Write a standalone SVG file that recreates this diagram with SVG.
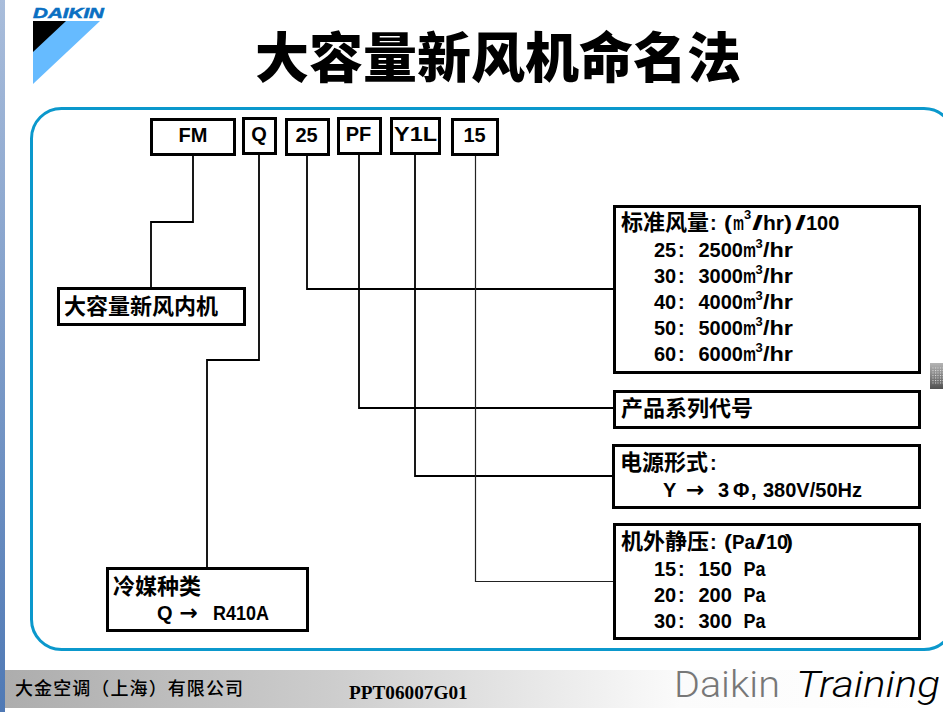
<svg xmlns="http://www.w3.org/2000/svg" width="943" height="712" viewBox="0 0 943 712">
<style>
.box{fill:#fff;stroke:#000;stroke-width:3}
.con{fill:none;stroke:#000;stroke-width:1.8}
.thin{stroke:#222;stroke-width:1.2}
text{font-family:"Liberation Sans","Noto Sans CJK SC",sans-serif;fill:#000;font-weight:700}
.t{font-size:20px}
.c{font-size:22px;font-family:"Noto Sans CJK SC",sans-serif;font-weight:700}
.h{font-size:20px;text-anchor:middle}
.s{font-size:13px}
.a{font-size:22px;font-family:"DejaVu Sans",sans-serif}
</style>
<defs>
<linearGradient id="fg" x1="0" x2="1" y1="0" y2="0"><stop offset="0" stop-color="#adadad"/><stop offset=".35" stop-color="#cdcdcd"/><stop offset=".72" stop-color="#fbfbfb"/><stop offset="1" stop-color="#fff"/></linearGradient>
<linearGradient id="lg" x1="0" x2="0" y1="0" y2="1"><stop offset="0" stop-color="#a9bddb"/><stop offset="1" stop-color="#4f79b5"/></linearGradient>
<linearGradient id="ig" x1="0" x2="0" y1="0" y2="1"><stop offset="0" stop-color="#b5b5b5"/><stop offset="1" stop-color="#505050"/></linearGradient>
<pattern id="dots" width="2.500" height="2.500" patternUnits="userSpaceOnUse"><rect width="1" height="1" fill="#e4e4e4"/></pattern>
</defs>
<rect width="943" height="712" fill="#fff"/>
<rect width="5" height="712" fill="url(#lg)"/>
<rect x="5" y="670" width="938" height="38" fill="url(#fg)"/>
<g id="logo">
<polygon points="33,21 100,21 33,84" fill="#66bbff"/>
<polygon points="33,21 66,21 33,52" fill="#000"/>
<text x="33" y="18" textLength="71" lengthAdjust="spacingAndGlyphs" style="font-size:14.5px;font-style:italic;font-weight:700;fill:#0a6fc2;stroke:#0a6fc2;stroke-width:.5">DAIKIN</text>
</g>
<text id="title" x="498" y="78" text-anchor="middle" style="font-size:54px;font-family:'Noto Sans CJK SC',sans-serif;font-weight:900">大容量新风机命名法</text>
<rect id="frame" x="31.5" y="108.5" width="922.5" height="541" rx="30" fill="none" stroke="#0b98cc" stroke-width="3"/>
<g id="connectors">
<path class="con" d="M193 154V222H151V296"/>
<path class="con" d="M259 154V360H207V568"/>
<path class="con" d="M307 154V289H614"/>
<path class="con" d="M359 154V408H614"/>
<path class="con" d="M415 154V476H614"/>
<path class="con thin" d="M475.500 154V581.500H614"/>
</g>
<g id="n-fm"><rect class="box" x="151.500" y="119.500" width="83" height="35"/><text class="h" x="193" y="142">FM</text></g>
<g id="n-q"><rect class="box" x="243.500" y="118.500" width="32" height="35"/><text class="h" x="259" y="141">Q</text></g>
<g id="n-25"><rect class="box" x="286.500" y="119.500" width="42" height="35"/><text class="h" x="306.500" y="142">25</text></g>
<g id="n-pf"><rect class="box" x="338.500" y="118.500" width="42" height="35"/><text class="h" x="358.500" y="141">PF</text></g>
<g id="n-y1l"><rect class="box" x="391.500" y="118.500" width="48" height="35"/><text class="t" x="394" y="141" textLength="43" lengthAdjust="spacingAndGlyphs">Y1L</text></g>
<g id="n-15"><rect class="box" x="452.500" y="119.500" width="45" height="35"/><text class="h" x="474.500" y="142">15</text></g>
<g id="n-name"><rect class="box" x="58.500" y="288.500" width="186" height="36"/><text class="c" x="64" y="314">大容量新风内机</text></g>
<g id="n-ref"><rect class="box" x="107.500" y="568.500" width="200" height="62"/><text class="c" x="113" y="594">冷媒种类</text><text class="t" x="157" y="620">Q</text><text class="a" x="179.500" y="620">→</text><text class="t" x="213" y="620" textLength="56" lengthAdjust="spacingAndGlyphs">R410A</text></g>
<g id="n-air"><rect class="box" x="614.500" y="206.500" width="305" height="166"/>
<text class="c" x="621" y="230">标准风量</text><text class="t" x="710" y="230">:</text><text class="t" x="724" y="230" textLength="8" lengthAdjust="spacingAndGlyphs">(</text><text class="t" x="733" y="230" textLength="11" lengthAdjust="spacingAndGlyphs">m</text><text class="s" x="744" y="219">3</text><text class="t" x="752" y="230" textLength="11" lengthAdjust="spacingAndGlyphs">/</text><text class="t" x="763" y="230" textLength="21" lengthAdjust="spacingAndGlyphs">hr</text><text class="t" x="784" y="230" textLength="8" lengthAdjust="spacingAndGlyphs">)</text><text class="t" x="795" y="230" textLength="11" lengthAdjust="spacingAndGlyphs">/</text><text class="t" x="806" y="230">100</text>
<text class="t" x="654" y="257">25</text><text class="t" x="678" y="257">:</text><text class="t" x="698.500" y="257">2500</text><text class="t" x="743" y="257" textLength="13" lengthAdjust="spacingAndGlyphs">m</text><text class="s" x="755.500" y="248">3</text><text class="t" x="763" y="257" textLength="30" lengthAdjust="spacingAndGlyphs">/hr</text>
<text class="t" x="654" y="283">30</text><text class="t" x="678" y="283">:</text><text class="t" x="698.500" y="283">3000</text><text class="t" x="743" y="283" textLength="13" lengthAdjust="spacingAndGlyphs">m</text><text class="s" x="755.500" y="274">3</text><text class="t" x="763" y="283" textLength="30" lengthAdjust="spacingAndGlyphs">/hr</text>
<text class="t" x="654" y="309">40</text><text class="t" x="678" y="309">:</text><text class="t" x="698.500" y="309">4000</text><text class="t" x="743" y="309" textLength="13" lengthAdjust="spacingAndGlyphs">m</text><text class="s" x="755.500" y="300">3</text><text class="t" x="763" y="309" textLength="30" lengthAdjust="spacingAndGlyphs">/hr</text>
<text class="t" x="654" y="335">50</text><text class="t" x="678" y="335">:</text><text class="t" x="698.500" y="335">5000</text><text class="t" x="743" y="335" textLength="13" lengthAdjust="spacingAndGlyphs">m</text><text class="s" x="755.500" y="326">3</text><text class="t" x="763" y="335" textLength="30" lengthAdjust="spacingAndGlyphs">/hr</text>
<text class="t" x="654" y="361">60</text><text class="t" x="678" y="361">:</text><text class="t" x="698.500" y="361">6000</text><text class="t" x="743" y="361" textLength="13" lengthAdjust="spacingAndGlyphs">m</text><text class="s" x="755.500" y="352">3</text><text class="t" x="763" y="361" textLength="30" lengthAdjust="spacingAndGlyphs">/hr</text>
</g>
<g id="n-code"><rect class="box" x="614.500" y="391.500" width="305" height="36"/><text class="c" x="621" y="416">产品系列代号</text></g>
<g id="n-power"><rect class="box" x="613.500" y="445.500" width="306" height="62"/><text class="c" x="620" y="470">电源形式</text><text class="t" x="710" y="470">:</text><text class="t" x="663" y="497">Y</text><text class="a" x="686" y="497">→</text><text class="t" x="718" y="497">3</text><text class="t" x="733" y="497">Φ</text><text class="t" x="751" y="497">,</text><text class="t" x="763" y="497">380V/50Hz</text></g>
<g id="n-esp"><rect class="box" x="614.500" y="524.500" width="305" height="114"/><text class="c" x="621" y="549">机外静压</text><text class="t" x="710" y="549">:</text><text class="t" x="724" y="549" textLength="8" lengthAdjust="spacingAndGlyphs">(</text><text class="t" x="732" y="549" textLength="23" lengthAdjust="spacingAndGlyphs">Pa</text><text class="t" x="755" y="549" textLength="11" lengthAdjust="spacingAndGlyphs">/</text><text class="t" x="766" y="549">10</text><text class="t" x="785" y="549" textLength="8" lengthAdjust="spacingAndGlyphs">)</text>
<text class="t" x="654" y="576">15</text><text class="t" x="678" y="576">:</text><text class="t" x="698.500" y="576">150</text><text class="t" x="743.500" y="576" textLength="22" lengthAdjust="spacingAndGlyphs">Pa</text>
<text class="t" x="654" y="602">20</text><text class="t" x="678" y="602">:</text><text class="t" x="698.500" y="602">200</text><text class="t" x="743.500" y="602" textLength="22" lengthAdjust="spacingAndGlyphs">Pa</text>
<text class="t" x="654" y="628">30</text><text class="t" x="678" y="628">:</text><text class="t" x="698.500" y="628">300</text><text class="t" x="743.500" y="628" textLength="22" lengthAdjust="spacingAndGlyphs">Pa</text></g>
<g id="handle"><rect x="930" y="363" width="13" height="26" fill="url(#ig)"/><rect x="932" y="367" width="11" height="18" fill="url(#dots)"/></g>
<text x="15" y="695" textLength="228" style="font-family:'Noto Sans CJK SC',sans-serif;font-size:18px;font-weight:500">大金空调（上海）有限公司</text>
<text x="349" y="699" style="font-family:'Liberation Serif',serif;font-size:19.250px;font-weight:700">PPT06007G01</text>
<text x="674" y="697" textLength="106" lengthAdjust="spacingAndGlyphs" style="font-family:Roboto,sans-serif;font-size:36px;font-weight:300;fill:#777">Daikin</text>
<text x="796" y="697" textLength="144" lengthAdjust="spacingAndGlyphs" style="font-family:Roboto,sans-serif;font-size:36px;font-weight:300;font-style:italic;fill:#000">Training</text>
</svg>
